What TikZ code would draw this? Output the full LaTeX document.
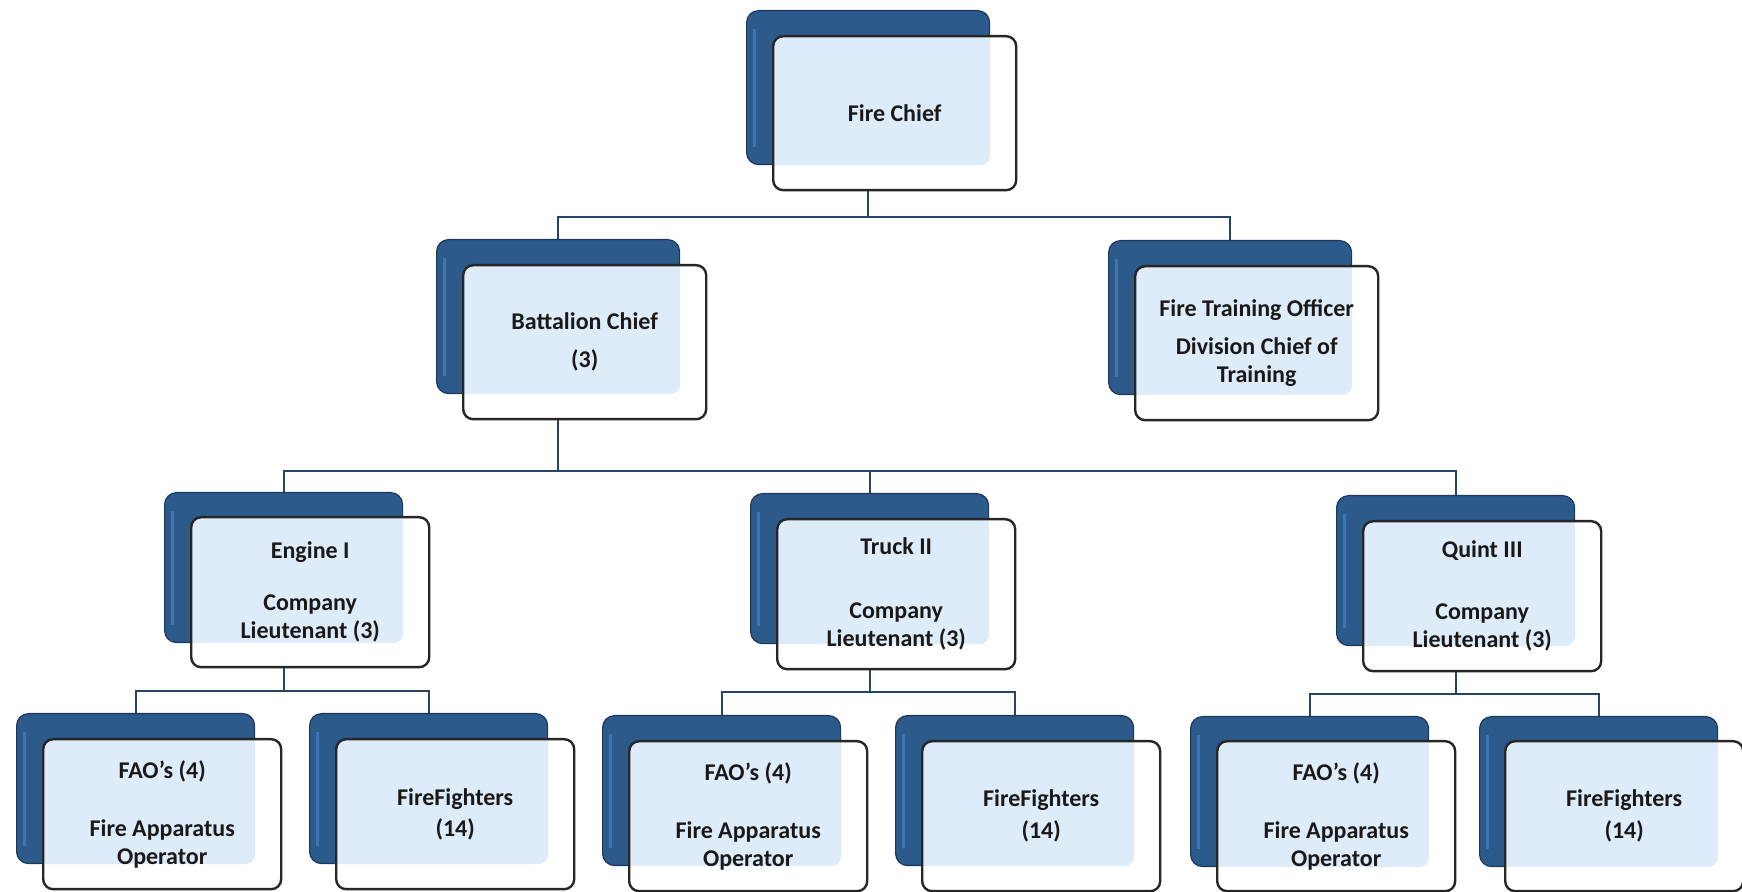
\documentclass[tikz,border=0pt]{standalone}
\usepackage{fontspec}
\setmainfont{Carlito}
\usetikzlibrary{backgrounds}
\definecolor{bdark}{RGB}{44,90,138}
\definecolor{bedge}{RGB}{28,55,88}
\definecolor{bhigh}{RGB}{62,118,180}
\definecolor{flight}{RGB}{222,236,250}
\definecolor{connc}{RGB}{40,68,100}
\tikzset{
  backbox/.style={draw=bedge, line width=0.6pt, fill=bdark, rounded corners=6pt,
    inner sep=0pt, anchor=north west,
    path picture={\draw[bhigh, line width=1.8pt]
      ([xshift=4pt,yshift=-9pt]path picture bounding box.north west) --
      ([xshift=4pt,yshift=9pt]path picture bounding box.south west);}},
  frontbox/.style={draw=black!85, line width=1.2pt, fill=white, rounded corners=5pt,
    inner sep=0pt, anchor=north west, align=center,
    font=\bfseries\fontsize{12}{14}\selectfont, text=black!90},
  ovl/.style={path picture={\fill[flight] (#1.north west) rectangle (#1.south east);}},
  bigsz/.style={minimum width=121.5pt, minimum height=77pt},
  smallsz/.style={minimum width=119pt, minimum height=75pt},
  conn/.style={draw=connc, line width=1pt},
}
\newcommand{\orgunit}[5]{%
  \node[backbox,#2] (#1b) at (#3) {};
  \node[frontbox,#2,ovl=#1b] (#1) at (#4) {#5};}
\begin{document}
\begin{tikzpicture}[x=0.5pt,y=-0.5pt]
\useasboundingbox (0,0) rectangle (1742,892);
% level 1 and 2
\orgunit{fc}{bigsz}{746,10}{772,35}{Fire Chief}
\orgunit{bc}{bigsz}{436,239}{462,264}{Battalion Chief\\[5pt](3)}
\orgunit{fto}{bigsz}{1108,240}{1134,265}{Fire Training Officer\\[5pt]Division Chief of\\Training}
% level 3
\orgunit{ea}{smallsz}{164,492}{190,516}{Engine I\\[12pt]Company\\Lieutenant (3)}
\orgunit{tb}{smallsz}{750,493}{776,518}{Truck II\\[18pt]Company\\Lieutenant (3)}
\orgunit{qc}{smallsz}{1336,495}{1362,520}{Quint III\\[17pt]Company\\Lieutenant (3)}
% level 4
\orgunit{faoa}{smallsz}{16,713}{42,738}{FAO's (4)\\[15pt]Fire Apparatus\\Operator}
\orgunit{ffa}{smallsz}{309,713}{335,738}{FireFighters\\[1.5pt](14)}
\orgunit{faob}{smallsz}{602,715}{628,740}{FAO's (4)\\[15pt]Fire Apparatus\\Operator}
\orgunit{ffb}{smallsz}{895,715}{921,740}{FireFighters\\[2pt](14)}
\orgunit{faoc}{smallsz}{1190,716}{1216,740}{FAO's (4)\\[15pt]Fire Apparatus\\Operator}
\orgunit{ffc}{smallsz}{1479,716}{1504,740}{FireFighters\\[2pt](14)}
% connectors
\begin{scope}[on background layer]
  \coordinate (ya) at (0,217);
  \coordinate (yb) at (0,471);
  \coordinate (yc) at (0,691);
  \coordinate (yd) at (0,692);
  \coordinate (ye) at (0,694);
  \draw[conn] (fcb.south) -- (fcb.south |- ya) -| (bcb.north);
  \draw[conn] (fcb.south |- ya) -| (ftob.north);
  \draw[conn] (bcb.south) -- (bcb.south |- yb) -| (eab.north);
  \draw[conn] (bcb.south |- yb) -| (tbb.north);
  \draw[conn] (bcb.south |- yb) -| (qcb.north);
  \draw[conn] (eab.south) -- (eab.south |- yc) -| (faoab.north);
  \draw[conn] (eab.south |- yc) -| (ffab.north);
  \draw[conn] (tbb.south) -- (tbb.south |- yd) -| (faobb.north);
  \draw[conn] (tbb.south |- yd) -| (ffbb.north);
  \draw[conn] (qcb.south) -- (qcb.south |- ye) -| (faocb.north);
  \draw[conn] (qcb.south |- ye) -| (ffcb.north);
\end{scope}
\end{tikzpicture}
\end{document}
